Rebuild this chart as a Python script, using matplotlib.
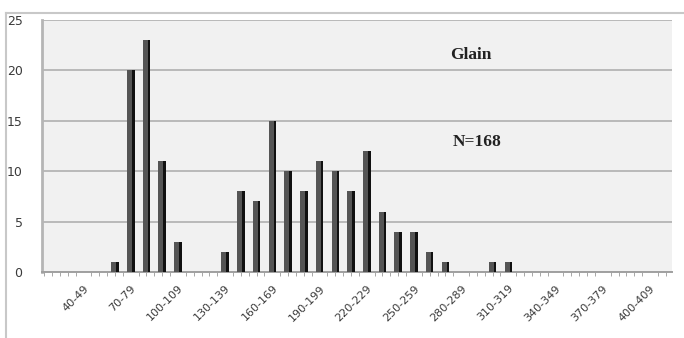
import numpy as np
import matplotlib.pyplot as plt
from matplotlib.lines import Line2D

# size classes (lower bound of each 10-unit bin) and counts
bin_lows = list(range(40, 410, 10))
counts = [0, 0, 1, 20, 23, 11, 3, 0, 0, 2,
          8, 7, 15, 10, 8, 11, 10, 8, 12, 6,
          4, 4, 2, 1, 0, 0, 1, 1, 0, 0,
          0, 0, 0, 0, 0, 0, 0]
bin_labels = [f"{lo}-{lo + 9}" for lo in bin_lows]
title_text = "Glain"
n_text = "N=168"

centers = np.array(bin_lows) + 5

fig = plt.figure(figsize=(6.84, 3.38), dpi=100)
ax = fig.add_axes([42 / 684, 66 / 338, 630 / 684, 252 / 338])
ax.set_facecolor("#f1f1f1")

# bars: dark grey face with a black shadow strip on the right
ax.bar(centers, counts, width=4.8, color="#555555", zorder=3)
ax.bar(centers + 1.6, counts, width=1.6, color="#111111", zorder=4)

ax.set_xlim(18.6, 419)
ax.set_ylim(0, 25)
ax.set_yticks([0, 5, 10, 15, 20, 25])
ax.yaxis.grid(True, color="#b0b0b0", linewidth=1.2, zorder=0)
ax.tick_params(axis="y", length=0, labelsize=9, labelcolor="#3a3a3a", pad=14)

ax.set_xticks(centers[::3])
ax.set_xticklabels(bin_labels[::3], rotation=45, ha="right",
                   rotation_mode="anchor", fontsize=8, color="#3a3a3a")
ax.set_xticks(np.arange(20, 420, 5), minor=True)
ax.tick_params(axis="x", which="major", length=0, pad=8)
ax.tick_params(axis="x", which="minor", length=3, color="#999999")

for s in ["top", "right"]:
    ax.spines[s].set_visible(False)
ax.spines["left"].set_color("#b5b5b5")
ax.spines["left"].set_linewidth(2)
ax.spines["bottom"].set_color("#a0a0a0")
ax.spines["bottom"].set_linewidth(1.4)

ax.text(0.68, 0.86, title_text, transform=ax.transAxes, ha="center",
        va="center", fontsize=12.5, fontweight="bold",
        family="Liberation Serif", color="#222222")
ax.text(0.69, 0.515, n_text, transform=ax.transAxes, ha="center",
        va="center", fontsize=12.5, fontweight="bold",
        family="Liberation Serif", color="#222222")

# outer chart frame (left and top edges)
fig.add_artist(Line2D([6 / 684, 6 / 684], [0, 325 / 338], color="#c8c8c8",
                      linewidth=1.5, transform=fig.transFigure))
fig.add_artist(Line2D([6 / 684, 1], [325 / 338, 325 / 338], color="#c8c8c8",
                      linewidth=1.5, transform=fig.transFigure))

fig.savefig("out.png", dpi=100)
